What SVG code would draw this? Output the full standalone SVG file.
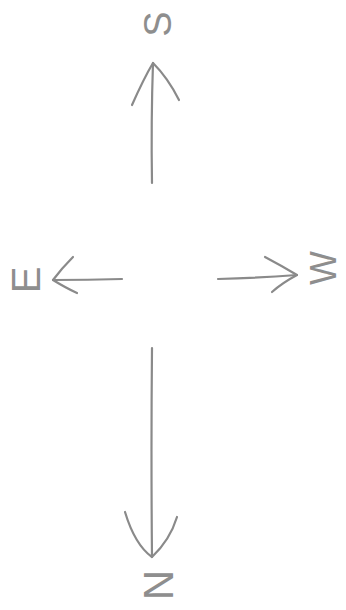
<svg xmlns="http://www.w3.org/2000/svg" width="346" height="610" viewBox="0 0 346 610">
<style>
.ln{fill:none;stroke:#8a8a8a;stroke-width:2.2;stroke-linecap:round;stroke-linejoin:round}
.lb{font-family:"Liberation Sans","DejaVu Sans",sans-serif;font-weight:normal;fill:#8e8e8e;text-anchor:middle;dominant-baseline:central}
</style>
<rect width="346" height="610" fill="#ffffff"/>
<g id="connectors">
<path class="ln" d="M152 183 Q151 120 153 63"/>
<path class="ln" d="M132 105 Q144 78 153 63 Q168 78 179 100"/>
<path class="ln" d="M218 279 Q258 278 297 275"/>
<path class="ln" d="M265 257 Q282 266 297 275 Q282 283 272 292"/>
<path class="ln" d="M122 279 Q88 280 53 280"/>
<path class="ln" d="M73 257 Q62 268 53 280 Q66 288 77 293"/>
<path class="ln" d="M152 348 Q151 450 152 557"/>
<path class="ln" d="M125 512 Q135 545 152 557 Q170 540 177 517"/>
</g>
<g id="north-top"><text class="lb" font-size="38" transform="translate(158,24) rotate(-90)">S</text></g>
<g id="east-right"><text class="lb" font-size="36" transform="translate(323,268) rotate(-90)">W</text></g>
<g id="south-bottom"><text class="lb" font-size="42" transform="translate(158,585) rotate(-90)">N</text></g>
<g id="west-left"><text class="lb" font-size="40" transform="translate(26,280) rotate(-90)">E</text></g>
</svg>
